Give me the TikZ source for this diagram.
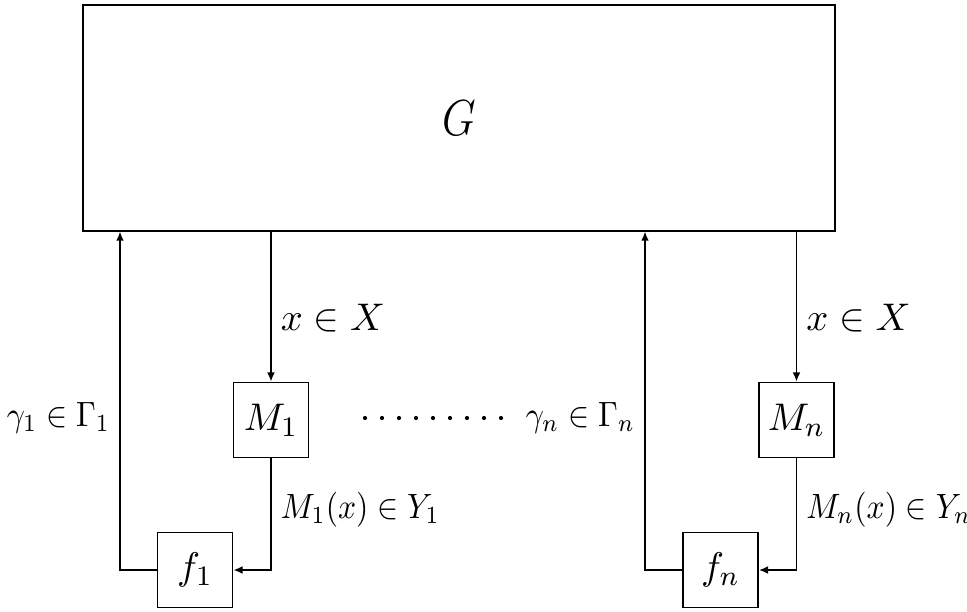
\documentclass[tikz,border=0pt]{standalone}
\usepackage{amsmath}
\usetikzlibrary{arrows.meta}
\newcommand{\narrow}[2][0.9]{\scalebox{#1}[1]{$#2$}}
\tikzset{
  blk/.style={draw,line width=0.5pt,minimum width=0.75cm,minimum height=0.75cm,inner sep=1pt},
  bigblk/.style={draw,line width=0.55pt,minimum width=7.51cm,minimum height=2.25cm,font=\fontsize{14}{17}\selectfont},
  ar/.style={-{Latex[length=2.6pt,width=2.2pt]},line width=0.45pt},
  lab/.style={inner sep=2.6pt},
  smlab/.style={lab,font=\fontsize{9.7}{12}\selectfont},
}
\begin{document}
\begin{tikzpicture}[x=0.01cm,y=-0.01cm,font=\fontsize{11.2}{13}\selectfont]
    \useasboundingbox (0,0) rectangle (967,611);
    % main system
    \node[bigblk] (G) at (459,118) {\narrow[0.86]{G}};
    % first player
    \node[blk] (M1) at (271,420) {$M_1$};
    \node[blk] (f1) at (195,570) {$f_1$};
    \coordinate (c1) at (120,570);
    \draw[ar] (M1.north |- G.south) -- (M1.north) node[lab,pos=0.58,right]{$x\in X$};
    \draw[ar] (M1.south) |- (f1.east) node[smlab,pos=0.23,right]{\narrow{M_1(x)\in Y_1}};
    \draw[ar] (f1.west) -- (c1) -- (c1 |- G.south) node[smlab,pos=0.45,left]{\narrow{\gamma_1\in\Gamma_1}};
    % n-th player
    \node[blk] (Mn) at (796.5,420) {$M_n$};
    \node[blk] (fn) at (720.5,570) {$f_n$};
    \coordinate (cn) at (645,570);
    \draw[ar] (Mn.north |- G.south) -- (Mn.north) node[lab,pos=0.58,right]{$x\in X$};
    \draw[ar] (Mn.south) |- (fn.east) node[smlab,pos=0.23,right]{\narrow{M_n(x)\in Y_n}};
    \draw[ar] (fn.west) -- (cn) -- (cn |- G.south) node[smlab,pos=0.45,left]{\narrow{\gamma_n\in\Gamma_n}};
    % dots between the players
    \foreach \i in {0,...,8}
      \fill (365+17*\i,418) circle (2.1);
\end{tikzpicture}
\end{document}
